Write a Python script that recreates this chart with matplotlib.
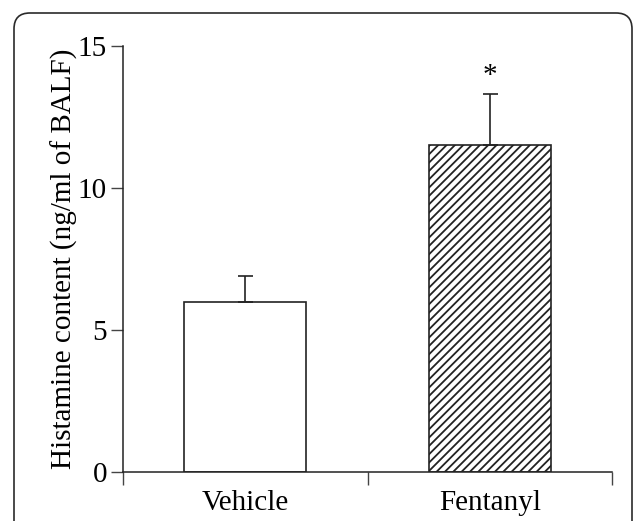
import matplotlib.pyplot as plt
from matplotlib.patches import FancyBboxPatch

grupos = ['Vehicle', 'Fentanyl']
medias = [6.0, 11.5]
errores = [0.9, 1.8]
y_ticks = [0, 5, 10, 15]

plt.rcParams['font.family'] = ['Liberation Serif', 'DejaVu Serif']
plt.rcParams['hatch.linewidth'] = 1.3

fig = plt.figure(figsize=(6.36, 5.21), dpi=100)

# marco redondeado alrededor de la figura
marco = FancyBboxPatch((14 / 636, -0.1), 618 / 636, (1 - 13 / 521) + 0.1,
                       boxstyle='round,pad=0,rounding_size=0.025',
                       transform=fig.transFigure, fill=False,
                       edgecolor='#2a2a2a', linewidth=1.2, mutation_aspect=636 / 521)
fig.patches.append(marco)

ax = fig.add_axes([123 / 636, 1 - 472 / 521, 489 / 636, 426 / 521])

x = range(len(grupos))
barras = ax.bar(x, medias, width=0.5, color='white', edgecolor='#222222',
                linewidth=1.2, zorder=2)
barras[1].set_hatch('////')
ax.errorbar(x, medias, yerr=[[0, 0], errores], fmt='none', ecolor='#222222',
            elinewidth=1.2, capsize=5.4, capthick=1.2, zorder=3)

ax.text(1, medias[1] + errores[1] + 0.2, '*', ha='center', va='bottom', fontsize=21)

ax.set_xlim(-0.5, 1.5)
ax.set_ylim(0, 15)
ax.set_yticks(y_ticks)
ax.set_xticks(list(x))
ax.set_xticklabels(grupos)
ax.set_xticks([-0.5, 0.5, 1.5], minor=True)
ax.tick_params(axis='x', which='major', length=0, pad=13, labelsize=21)
ax.tick_params(axis='x', which='minor', length=9, width=1.0, direction='out', color='#444444')
ax.tick_params(axis='y', length=9, width=1.0, pad=2.5, labelsize=21, color='#444444')
ax.set_ylabel('Histamine content (ng/ml of BALF)', fontsize=21, va='center')
ax.yaxis.set_label_coords(-0.12, 0.5)

for lado in ['top', 'right']:
    ax.spines[lado].set_visible(False)
for lado in ['left', 'bottom']:
    ax.spines[lado].set_linewidth(1.1)
    ax.spines[lado].set_color('#222222')

plt.savefig('out.png', dpi=100)
print("✅ Gráfica guardada como 'out.png'")
